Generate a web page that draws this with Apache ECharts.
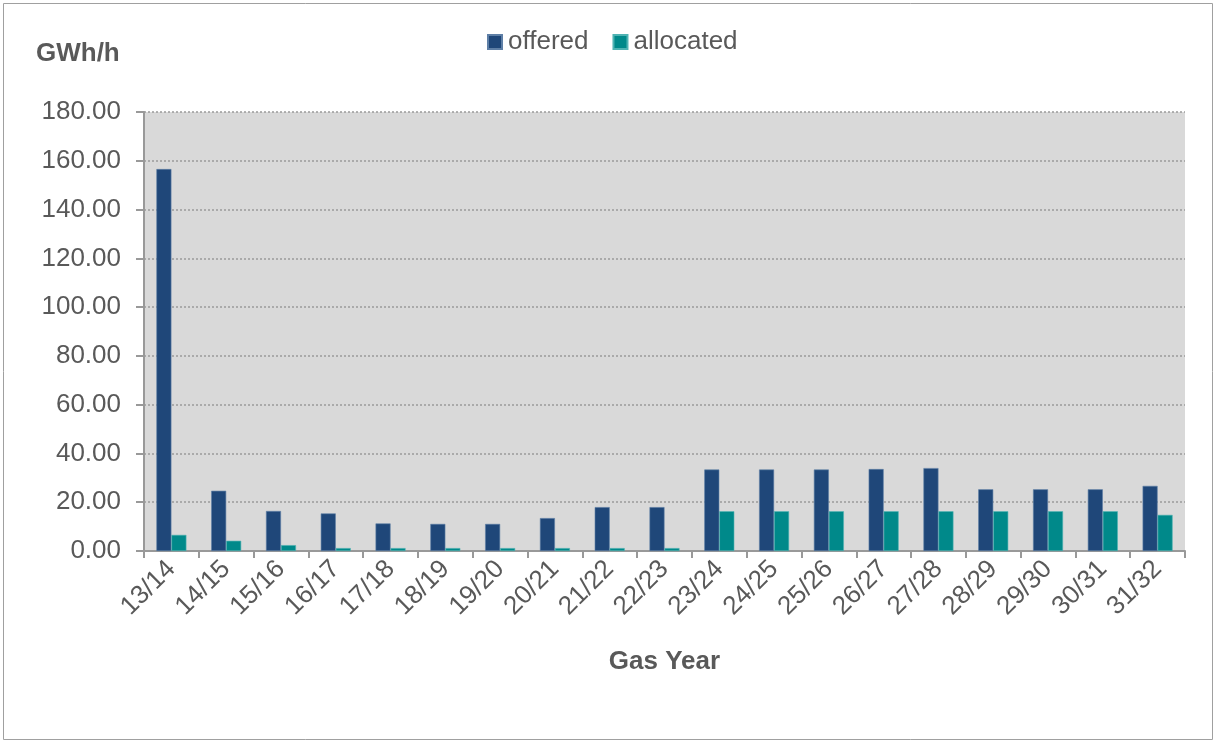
<!DOCTYPE html>
<html>
<head>
<meta charset="utf-8">
<script src="https://cdn.jsdelivr.net/npm/echarts@6/dist/echarts.min.js"></script>
<style>
  html, body { margin: 0; padding: 0; background: #fff; }
  #chart { width: 1216px; height: 743px; }
</style>
</head>
<body>
<div id="chart"></div>
<script>
var years = ['13/14', '14/15', '15/16', '16/17', '17/18', '18/19', '19/20', '20/21', '21/22', '22/23',
    '23/24', '24/25', '25/26', '26/27', '27/28', '28/29', '29/30', '30/31', '31/32'];
var offered = [156.6, 24.7, 16.4, 15.4, 11.3, 11.1, 11.1, 13.5, 18.0, 18.0,
    33.4, 33.4, 33.4, 33.6, 34.0, 25.3, 25.3, 25.3, 26.7];
var allocated = [6.6, 4.2, 2.4, 1.2, 1.2, 1.2, 1.2, 1.2, 1.2, 1.2,
    16.3, 16.3, 16.3, 16.3, 16.3, 16.3, 16.3, 16.3, 14.8];

var font = 'Liberation Sans, Arial, sans-serif';
var textGrey = '#595959';
var chart = echarts.init(document.getElementById('chart'));

var option = {
    animation: false,
    textStyle: { fontFamily: font },
    color: ['#1F4779', '#00898A'],
    graphic: [{
        type: 'rect',
        shape: { x: 3.5, y: 3.5, width: 1209, height: 736 },
        style: { fill: 'none', stroke: '#A0A0A0', lineWidth: 1 }
    }],
    title: {
        text: 'GWh/h',
        left: 31,
        top: 36,
        textStyle: { fontSize: 26, fontWeight: 'bold', color: textGrey, fontFamily: font }
    },
    legend: {
        top: 24,
        left: 482,
        itemWidth: 14,
        itemHeight: 14,
        itemGap: 24,
        icon: 'rect',
        textStyle: { fontSize: 26, color: textGrey, padding: [0, 0, 0, 1] },
        data: ['offered', 'allocated']
    },
    grid: {
        left: 144,
        right: 31,
        top: 112,
        bottom: 192,
        show: true,
        backgroundColor: '#D9D9D9',
        borderWidth: 0
    },
    xAxis: {
        type: 'category',
        data: years,
        name: 'Gas Year',
        nameLocation: 'middle',
        nameGap: 98,
        nameTextStyle: { fontSize: 26, fontWeight: 'bold', color: textGrey },
        axisLine: { lineStyle: { color: '#999999', width: 2 } },
        axisTick: { show: true, length: 7, lineStyle: { color: '#999999', width: 2 } },
        axisLabel: { rotate: 45, fontSize: 26, color: textGrey, margin: 14 }
    },
    yAxis: {
        type: 'value',
        min: 0,
        max: 180,
        interval: 20,
        axisLine: { show: true, lineStyle: { color: '#999999', width: 2 } },
        axisTick: { show: true, length: 8, lineStyle: { color: '#999999', width: 2 } },
        axisLabel: {
            fontSize: 26,
            color: textGrey,
            margin: 23,
            formatter: function (v) { return v.toFixed(2); }
        },
        splitLine: { lineStyle: { color: '#9A9A9A', type: [2, 2], width: 1.5 } }
    },
    series: [{
        name: 'offered',
        type: 'bar',
        data: offered,
        barWidth: 15,
        barGap: '0%',
        itemStyle: { borderColor: '#5E7FA6', borderWidth: 0.6 }
    }, {
        name: 'allocated',
        type: 'bar',
        data: allocated,
        barWidth: 15,
        itemStyle: { borderColor: '#4FB3B3', borderWidth: 0.6 }
    }]
};
chart.setOption(option);
</script>
</body>
</html>
